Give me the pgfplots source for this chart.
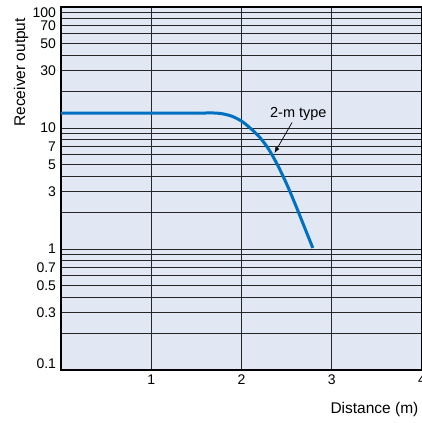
\documentclass[border=0pt]{standalone}
\usepackage{pgfplots}
\pgfplotsset{compat=1.18}
\usepackage{fontspec}
\setmainfont{Liberation Sans}
\usetikzlibrary{calc,arrows.meta}
\definecolor{bgblue}{RGB}{225,232,244}
\definecolor{curveblue}{RGB}{0,112,192}
\begin{document}
\begin{tikzpicture}
\begin{axis}[
  name=ax,
  scale only axis,
  width=361pt, height=363pt,
  ymode=log,
  xmin=0, xmax=4, ymin=0.1, ymax=100,
  axis background/.style={fill=bgblue},
  xtick={1,2,3,4},
  xticklabels={1,2,3,4},
  minor x tick num=0,
  ytick={0.1,0.3,0.5,0.7,1,3,5,7,10,30,50,70,100},
  yticklabels={\raisebox{6pt}[\height][\depth]{0.1},0.3,0.5,0.7,1,3,5,7,10,30,50,70,\raisebox{-6pt}[\height][\depth]{100}},
  minor ytick={0.2,0.4,0.6,0.8,0.9,2,4,6,8,9,20,40,60,80,90},
  major tick length=0pt, minor tick length=0pt,
  xmajorgrids=true, xminorgrids=false,
  ymajorgrids=true, yminorgrids=true,
  major grid style={black!85, line width=0.75pt},
  minor grid style={black!85, line width=0.75pt},
  axis line style={black, line width=1.2pt},
  tick label style={font=\fontsize{14}{16}\selectfont},
  /pgf/number format/assume math mode=true,
  xticklabel style={yshift=-1pt},
  yticklabel style={xshift=-1.5pt},
  ylabel={Receiver output},
  ylabel style={font=\fontsize{15.5}{17}\selectfont, at={(rel axis cs:0,0.82)}, anchor=south, yshift=29pt},
  xlabel={Distance (m)},
  xlabel style={font=\fontsize{15.5}{17}\selectfont, at={(rel axis cs:1,0)}, anchor=base west, xshift=-95pt, yshift=-43pt},
  clip=false,
]
\addplot[curveblue, line width=3pt, smooth, tension=0.5] coordinates {
  (0,13.3) (1.5,13.3) (1.7,13.3) (1.8,13.06) (1.9,12.45) (2.0,11.4) (2.1,9.93)
  (2.2,8.41) (2.3,6.7) (2.4,4.94) (2.5,3.45) (2.6,2.3) (2.7,1.5) (2.79,1.02)
};
\node[font=\fontsize{14.5}{16}\selectfont] at (axis cs:2.63,13.1) {2-m type};
\draw[-{Latex[length=6pt,width=4.5pt]}, line width=0.7pt] (axis cs:2.56,11.1) -- (axis cs:2.365,6.2);
\end{axis}
\pgfresetboundingbox
\path[use as bounding box] ($(ax.south west)+(-61pt,-53pt)$) rectangle ($(ax.north east)+(0pt,7pt)$);
\end{tikzpicture}
\end{document}
